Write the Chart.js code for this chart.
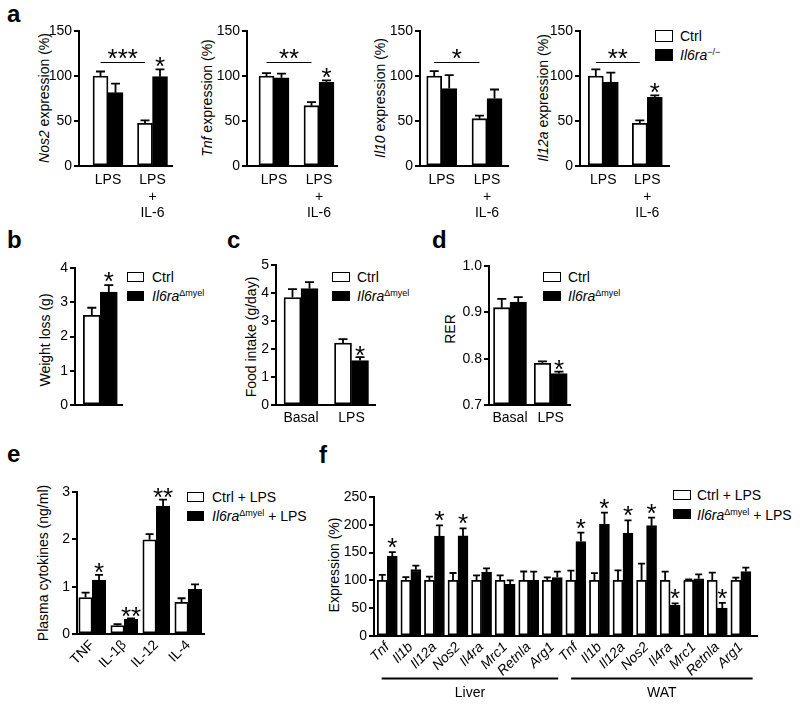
<!DOCTYPE html>
<html><head><meta charset="utf-8">
<script src="https://cdn.jsdelivr.net/npm/chart.js@4/dist/chart.umd.min.js"></script>
<style>
body{margin:0;background:#fff;}
#fig{position:relative;width:800px;height:704px;overflow:hidden;font-family:"Liberation Sans",Arial,Helvetica,sans-serif;color:#000;background:#fff;}
canvas{position:absolute;}
.t{position:absolute;white-space:nowrap;font-size:14px;line-height:1;}
.yt{position:absolute;white-space:nowrap;font-size:14px;line-height:1;transform:translate(-50%,-50%) rotate(-90deg);}
.let{position:absolute;font-weight:bold;font-size:24px;line-height:1;}
.box{position:absolute;border:1.6px solid #000;box-sizing:border-box;background:#fff;}
.box.k{background:#000;}
.sp{font-size:9px;position:relative;top:-5px;}
</style></head>
<body><div id="fig">
<div class="let" style="left:7px;top:2px">a</div>
<div class="let" style="left:7px;top:228px">b</div>
<div class="let" style="left:227px;top:228px">c</div>
<div class="let" style="left:432px;top:228px">d</div>
<div class="let" style="left:7px;top:442px">e</div>
<div class="let" style="left:319px;top:443px">f</div>

<div class="yt" style="left:44px;top:98px"><i>Nos2</i> expression (%)</div>
<div class="yt" style="left:207px;top:98px"><i>Tnf</i> expression (%)</div>
<div class="yt" style="left:380px;top:98px"><i>Il10</i> expression (%)</div>
<div class="yt" style="left:543px;top:98px"><i>Il12a</i> expression (%)</div>
<div class="yt" style="left:45px;top:340px">Weight loss (g)</div>
<div class="yt" style="left:251px;top:337px">Food intake (g/day)</div>
<div class="yt" style="left:450px;top:329px">RER</div>
<div class="yt" style="left:43px;top:563px">Plasma cytokines (ng/ml)</div>
<div class="yt" style="left:334px;top:565px">Expression (%)</div>

<div class="box" style="left:655px;top:30px;width:18px;height:12px"></div>
<div class="t" style="left:680px;top:29px">Ctrl</div>
<div class="box k" style="left:655px;top:49px;width:18px;height:12px"></div>
<div class="t" style="left:680px;top:48px"><i>Il6ra</i><span class="sp">−/−</span></div>

<div class="box" style="left:127px;top:272px;width:17px;height:10px"></div>
<div class="t" style="left:152px;top:270px">Ctrl</div>
<div class="box k" style="left:127px;top:291px;width:17px;height:10px"></div>
<div class="t" style="left:152px;top:289px"><i>Il6ra</i><span class="sp">Δmyel</span></div>

<div class="box" style="left:332px;top:272px;width:18px;height:10px"></div>
<div class="t" style="left:357px;top:270px">Ctrl</div>
<div class="box k" style="left:332px;top:291px;width:18px;height:10px"></div>
<div class="t" style="left:357px;top:289px"><i>Il6ra</i><span class="sp">Δmyel</span></div>

<div class="box" style="left:543px;top:272px;width:18px;height:10px"></div>
<div class="t" style="left:568px;top:270px">Ctrl</div>
<div class="box k" style="left:543px;top:291px;width:18px;height:10px"></div>
<div class="t" style="left:568px;top:289px"><i>Il6ra</i><span class="sp">Δmyel</span></div>

<div class="box" style="left:187px;top:492px;width:17px;height:10px"></div>
<div class="t" style="left:212px;top:490px">Ctrl + LPS</div>
<div class="box k" style="left:187px;top:511px;width:17px;height:10px"></div>
<div class="t" style="left:212px;top:509px"><i>Il6ra</i><span class="sp">Δmyel</span> + LPS</div>

<div class="box" style="left:673px;top:490px;width:18px;height:10px"></div>
<div class="t" style="left:697px;top:488px">Ctrl + LPS</div>
<div class="box k" style="left:673px;top:509px;width:18px;height:10px"></div>
<div class="t" style="left:697px;top:508px"><i>Il6ra</i><span class="sp">Δmyel</span> + LPS</div>
</div>
<script>
// ---------------- data ----------------
const aCategories = [['LPS'], ['LPS', '+', 'IL-6']];
const nos2Ctrl = [100, 47.4], nos2CtrlErr = [105, 50.7];
const nos2Ko = [81.5, 99.3], nos2KoErr = [91.5, 107.4];
const tnfCtrl = [100, 67], tnfCtrlErr = [103.3, 71];
const tnfKo = [98, 93], tnfKoErr = [102.6, 95.2];
const il10Ctrl = [100, 52.6], il10CtrlErr = [105.5, 56];
const il10Ko = [86, 75], il10KoErr = [101, 85];
const il12aCtrl = [100, 47.4], il12aCtrlErr = [107.4, 50.7];
const il12aKo = [93.3, 76.3], il12aKoErr = [103.7, 78.5];
const aKoStars = {nos2: [0, '*'], tnf: [0, '*'], il10: [0, 0], il12a: [0, '*']};
const aSigStars = {nos2: '***', tnf: '**', il10: '*', il12a: '**'};

const bCategories = [''];
const weightCtrl = [2.62], weightCtrlErr = [2.84];
const weightKo = [3.30], weightKoErr = [3.50];

const cdCategories = ['Basal', 'LPS'];
const foodCtrl = [3.84, 2.21], foodCtrlErr = [4.14, 2.35];
const foodKo = [4.16, 1.59], foodKoErr = [4.39, 1.71];
const rerCtrl = [0.910, 0.790], rerCtrlErr = [0.929, 0.794];
const rerKo = [0.922, 0.768], rerKoErr = [0.933, 0.772];

const eCategories = ['TNF', 'IL-1β', 'IL-12', 'IL-4'];
const cytoCtrl = [0.77, 0.18, 1.99, 0.67], cytoCtrlErr = [0.875, 0.21, 2.11, 0.755];
const cytoKo = [1.14, 0.31, 2.70, 0.946], cytoKoErr = [1.25, 0.33, 2.84, 1.05];
const cytoStars = ['*', '**', '**', 0];

const fCategories = ['Tnf','Il1b','Il12a','Nos2','Il4ra','Mrc1','Retnla','Arg1',
                     'Tnf','Il1b','Il12a','Nos2','Il4ra','Mrc1','Retnla','Arg1'];
const fCtrl = [100,100,100,100,100,100,100,100, 100,100,100,100,100,100,100,100];
const fCtrlErr = [110,106,106.7,113.3,109,109,116,105.5, 117.5,113,118,130,115.7,102,114,105];
const fKo = [143.9,119.3,179.9,180,115,93,100,105, 170,200.8,185,198.4,55,103,50.4,116];
const fKoErr = [151,126.5,199,193.6,121.7,100,115.7,115.7, 186,221.8,208,212.8,58.8,111,59.4,123];
const fStars = ['*',0,'*','*',0,0,0,0, '*','*','*','*','*',0,'*',0];
const fGroups = [{text: 'Liver', from: -0.24, to: 7.25}, {text: 'WAT', from: 7.8, to: 15.5}];

// ---------------- helpers ----------------
const FONT = '"Liberation Sans", Arial, Helvetica, sans-serif';
Chart.defaults.font.family = FONT;
Chart.defaults.font.size = 14;
Chart.defaults.color = '#000';
Chart.defaults.animation = false;
const fig = document.getElementById('fig');

function drawStar(ctx, txt, x, cy) {
  ctx.save();
  ctx.font = '26px ' + FONT;
  ctx.textAlign = 'center';
  ctx.textBaseline = 'alphabetic';
  ctx.fillText(txt, x, cy + 0.56 * 26);
  ctx.restore();
}

function annot(o) {
  return {
    id: 'annot',
    afterDatasetsDraw(chart) {
      const ctx = chart.ctx, xs = chart.scales.x, ys = chart.scales.y;
      ctx.save();
      ctx.strokeStyle = '#000'; ctx.fillStyle = '#000';
      o.series.forEach((s, di) => {
        const meta = chart.getDatasetMeta(di);
        meta.data.forEach((bar, i) => {
          const top = ys.getPixelForValue(s.vals[i]);
          const ey = ys.getPixelForValue(s.err[i]);
          ctx.lineWidth = 1.8;
          ctx.beginPath();
          ctx.moveTo(bar.x, top); ctx.lineTo(bar.x, ey);
          ctx.moveTo(bar.x - o.cap / 2, ey); ctx.lineTo(bar.x + o.cap / 2, ey);
          ctx.stroke();
          if (s.stars && s.stars[i]) drawStar(ctx, s.stars[i], bar.x, ey - o.starGap);
        });
      });
      (o.sig || []).forEach(g => {
        const d = chart.getDatasetMeta(g.ds).data;
        const x0 = d[g.from].x, x1 = d[g.to].x, yy = Math.round(ys.getPixelForValue(g.y)) + 0.5;
        ctx.lineWidth = 1.2;
        ctx.beginPath(); ctx.moveTo(x0, yy); ctx.lineTo(x1, yy); ctx.stroke();
        drawStar(ctx, g.label, (x0 + x1) / 2, yy - 10);
      });
      (o.groups || []).forEach(b => {
        const x0 = xs.getPixelForValue(b.from), x1 = xs.getPixelForValue(b.to);
        const yy = chart.chartArea.bottom + 42.5;
        ctx.lineWidth = 1.8;
        ctx.beginPath(); ctx.moveTo(x0, yy); ctx.lineTo(x1, yy); ctx.stroke();
        ctx.font = '14px ' + FONT; ctx.textAlign = 'center'; ctx.textBaseline = 'middle';
        ctx.fillText(b.text, (x0 + x1) / 2, yy + 15);
      });
      ctx.restore();
    }
  };
}

function barChart(o) {
  const padT = o.padT || 22, padR = o.padR || 14, yW = 44, xH = o.xH;
  const w = Math.round(o.R - o.L + yW + padR), h = Math.round(o.B - o.T + padT + xH);
  const cv = document.createElement('canvas');
  cv.width = w; cv.height = h;
  cv.style.left = (o.L - yW) + 'px'; cv.style.top = (o.T - padT) + 'px';
  cv.style.width = w + 'px'; cv.style.height = h + 'px';
  fig.appendChild(cv);
  const datasets = o.series.map(s => {
    const d = {
      data: s.vals.map((v, i) => ({x: i, y: v})),
      backgroundColor: s.black ? '#000' : '#fff',
      borderColor: '#000', borderWidth: 1.8, borderSkipped: false,
      barThickness: o.barW
    };
    if (o.base !== undefined) d.base = o.base;
    return d;
  });
  new Chart(cv, {
    type: 'bar',
    data: {datasets},
    options: {
      responsive: false, maintainAspectRatio: false, animation: false,
      layout: {padding: {top: padT, right: padR, left: 0, bottom: 0}},
      plugins: {legend: {display: false}, tooltip: {enabled: false}},
      scales: {
        x: {
          type: 'linear', min: o.xmin, max: o.xmax, bounds: 'data', offset: false,
          grid: {display: false, drawTicks: false},
          border: {display: true, color: '#000', width: 2},
          afterBuildTicks: s => { s.ticks = o.cats.map((c, i) => ({value: i})); },
          afterFit: s => { s.height = xH; },
          ticks: {
            display: o.showX !== false, autoSkip: false,
            maxRotation: o.rot || 0, minRotation: o.rot || 0,
            padding: o.xPad !== undefined ? o.xPad : 6,
            font: {size: 14, style: o.italicX ? 'italic' : 'normal'},
            callback: v => o.cats[Math.round(v)]
          }
        },
        y: {
          min: o.ymin, max: o.ymax,
          grid: {display: true, drawOnChartArea: false, drawTicks: true, tickLength: 5, color: '#000', lineWidth: 2},
          border: {display: true, color: '#000', width: 2},
          afterFit: s => { s.width = yW; },
          ticks: {stepSize: o.ystep, padding: 2, font: {size: 14},
                  callback: v => o.yDec ? Number(v).toFixed(o.yDec) : v}
        }
      }
    },
    plugins: [annot(o)]
  });
}

// ---------------- panel a ----------------
const aPanels = [
  {L: 79, R: 172, xmin: -0.652, xmax: 1.438, c: nos2Ctrl, ce: nos2CtrlErr, k: nos2Ko, ke: nos2KoErr, st: aKoStars.nos2, sg: aSigStars.nos2},
  {L: 247, R: 337, xmin: -0.6, xmax: 1.4, c: tnfCtrl, ce: tnfCtrlErr, k: tnfKo, ke: tnfKoErr, st: aKoStars.tnf, sg: aSigStars.tnf},
  {L: 420, R: 508, xmin: -0.479, xmax: 1.463, c: il10Ctrl, ce: il10CtrlErr, k: il10Ko, ke: il10KoErr, st: aKoStars.il10, sg: aSigStars.il10},
  {L: 580, R: 669, xmin: -0.53, xmax: 1.493, c: il12aCtrl, ce: il12aCtrlErr, k: il12aKo, ke: il12aKoErr, st: aKoStars.il12a, sg: aSigStars.il12a}
];
aPanels.forEach(p => barChart({
  L: p.L, R: p.R, T: 31, B: 166, xH: 62, xmin: p.xmin, xmax: p.xmax,
  ymin: 0, ymax: 150, ystep: 50, cats: aCategories, barW: 15, cap: 9, starGap: 8.5, xPad: 5.5,
  series: [{vals: p.c, err: p.ce}, {vals: p.k, err: p.ke, black: true, stars: p.st}],
  sig: [{ds: 0, from: 0, to: 1, y: 115, label: p.sg}]
}));

// ---------------- panel b ----------------
barChart({
  L: 75, R: 122, T: 268, B: 405, xH: 20, xmin: -0.562, xmax: 0.482, showX: false,
  ymin: 0, ymax: 4, ystep: 1, cats: bCategories, barW: 17, cap: 9, starGap: 10,
  series: [{vals: weightCtrl, err: weightCtrlErr}, {vals: weightKo, err: weightKoErr, black: true, stars: ['*']}]
});

// ---------------- panel c ----------------
barChart({
  L: 276, R: 375, T: 265, B: 405, xH: 30, xmin: -0.495, xmax: 1.465, xPad: 4.5,
  ymin: 0, ymax: 5, ystep: 1, cats: cdCategories, barW: 17, cap: 9, starGap: 8,
  series: [{vals: foodCtrl, err: foodCtrlErr}, {vals: foodKo, err: foodKoErr, black: true, stars: [0, '*']}]
});

// ---------------- panel d ----------------
barChart({
  L: 489, R: 570, T: 266, B: 405, xH: 30, xmin: -0.516, xmax: 1.474, xPad: 4.5,
  ymin: 0.7, ymax: 1.0, ystep: 0.1, yDec: 1, base: 0.7, cats: cdCategories, barW: 16.5, cap: 9, starGap: 8,
  series: [{vals: rerCtrl, err: rerCtrlErr}, {vals: rerKo, err: rerKoErr, black: true, stars: [0, '*']}]
});

// ---------------- panel e ----------------
barChart({
  L: 77, R: 204, T: 492, B: 634, xH: 60, xmin: -0.478, xmax: 3.49, rot: 45, xPad: 3,
  ymin: 0, ymax: 3, ystep: 1, cats: eCategories, barW: 13.5, cap: 8, starGap: 8,
  series: [{vals: cytoCtrl, err: cytoCtrlErr}, {vals: cytoKo, err: cytoKoErr, black: true, stars: cytoStars}]
});

// ---------------- panel f ----------------
barChart({
  L: 374, R: 757, T: 497, B: 636, xH: 68, xmin: -0.564, xmax: 15.685, rot: 45, xPad: 3, italicX: true,
  ymin: 0, ymax: 250, ystep: 50, cats: fCategories, barW: 10, cap: 7, starGap: 10.5, padR: 10,
  series: [{vals: fCtrl, err: fCtrlErr}, {vals: fKo, err: fKoErr, black: true, stars: fStars}],
  groups: fGroups
});
</script>
</body></html>
